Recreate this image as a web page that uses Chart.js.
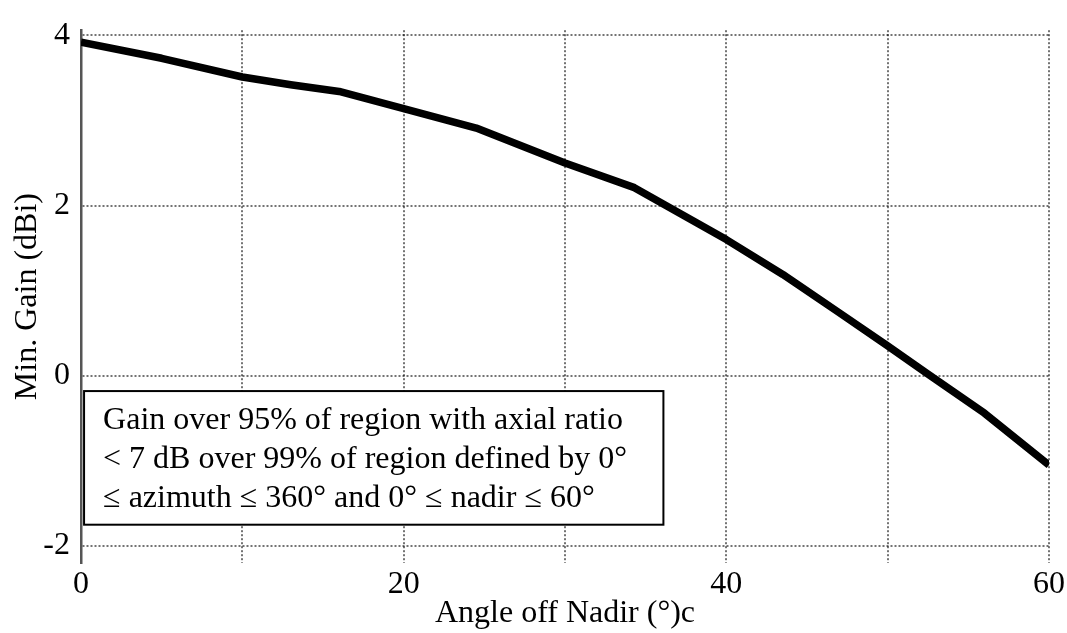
<!DOCTYPE html>
<html>
<head>
<meta charset="utf-8">
<script src="https://cdn.jsdelivr.net/npm/chart.js@4"></script>
<style>
  html, body { margin: 0; padding: 0; background: #fff; }
  #wrap { width: 1067px; height: 633px; }
</style>
</head>
<body>
<div id="wrap"><canvas id="gainChart"></canvas></div>
<script>
// data
const angles = [0, 5, 10, 13, 16, 20, 24.5, 30, 34.3, 40, 43.5, 47, 50, 52.5, 56, 60];
const gains = [3.92, 3.73, 3.51, 3.42, 3.34, 3.14, 2.91, 2.50, 2.21, 1.60, 1.19, 0.74, 0.35, 0.02, -0.44, -1.05];
const yTicks = [-2, 0, 2, 4];
const xLabelled = [0, 20, 40, 60];
const noteLines = [
  'Gain over 95% of region with axial ratio',
  '< 7 dB over 99% of region defined by 0°',
  '≤ azimuth ≤ 360° and 0° ≤ nadir ≤ 60°'
];

const FONT = '"Liberation Serif", "Times New Roman", serif';
const gridColor = 'rgba(0, 0, 0, 0.55)';

// boxed note in the lower left, anchored to axis values
const notePlugin = {
  id: 'noteBox',
  afterDatasetsDraw(chart) {
    const { ctx, scales } = chart;
    const left = scales.x.getPixelForValue(0.19);
    const right = scales.x.getPixelForValue(36.1);
    const top = scales.y.getPixelForValue(-0.18);
    const bottom = scales.y.getPixelForValue(-1.75);
    ctx.save();
    ctx.fillStyle = '#fff';
    ctx.fillRect(left, top, right - left, bottom - top);
    ctx.strokeStyle = '#000';
    ctx.lineWidth = 2;
    ctx.strokeRect(left, top, right - left, bottom - top);
    ctx.fillStyle = '#000';
    ctx.font = '32px ' + FONT;
    ctx.textBaseline = 'alphabetic';
    noteLines.forEach((line, i) => {
      ctx.fillText(line, left + 19, top + 38 + i * 39);
    });
    ctx.restore();
  }
};

const ctx = document.getElementById('gainChart').getContext('2d');
new Chart(ctx, {
  type: 'line',
  data: {
    datasets: [{
      data: angles.map((a, i) => ({ x: a, y: gains[i] })),
      borderColor: '#000',
      borderWidth: 7.5,
      borderJoinStyle: 'round',
      pointRadius: 0,
      tension: 0,
      fill: false
    }]
  },
  options: {
    responsive: true,
    maintainAspectRatio: false,
    animation: false,
    layout: { padding: { top: 22, right: 17, left: 0, bottom: 0 } },
    plugins: {
      legend: { display: false },
      tooltip: { enabled: false }
    },
    scales: {
      x: {
        type: 'linear',
        min: 0,
        max: 60,
        afterBuildTicks: (scale) => {
          scale.ticks = [0, 10, 20, 30, 40, 50, 60].map(v => ({ value: v }));
        },
        afterFit: (scale) => { scale.height = 70; },
        ticks: {
          color: '#000',
          font: { family: FONT, size: 32 },
          padding: 2,
          maxRotation: 0,
          autoSkip: false,
          callback: (v) => xLabelled.includes(v) ? String(v) : ''
        },
        grid: {
          color: gridColor,
          lineWidth: 2,
          drawTicks: false
        },
        border: { display: false, dash: [2, 2] },
        title: {
          display: true,
          text: 'Angle off Nadir (°)c',
          color: '#000',
          font: { family: FONT, size: 32 },
          padding: { top: 0, bottom: 0 }
        }
      },
      y: {
        min: -2.2,
        max: 4.06,
        afterBuildTicks: (scale) => {
          scale.ticks = yTicks.map(v => ({ value: v }));
        },
        afterFit: (scale) => { scale.width = 81; },
        ticks: {
          color: '#000',
          font: { family: FONT, size: 32 },
          padding: 11
        },
        grid: {
          color: gridColor,
          lineWidth: 2,
          drawTicks: false
        },
        border: { display: true, color: '#555', width: 2.5, dash: [2, 2] },
        title: {
          display: true,
          text: 'Min. Gain (dBi)',
          color: '#000',
          font: { family: FONT, size: 32 },
          padding: { top: 8, bottom: 0 }
        }
      }
    }
  },
  plugins: [notePlugin]
});
</script>
</body>
</html>
